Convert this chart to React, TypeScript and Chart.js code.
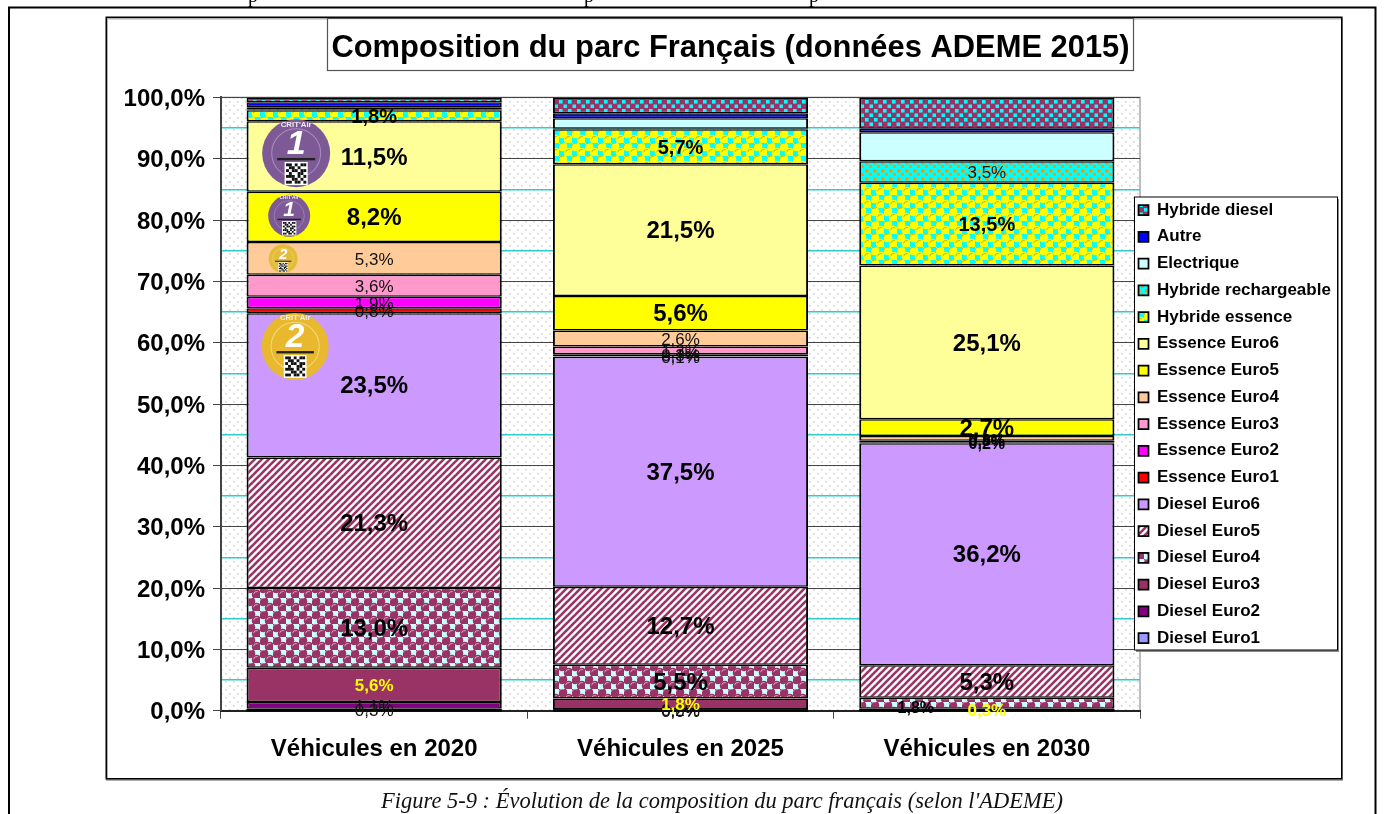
import React, { useEffect, useRef } from "react";
import { Chart, registerables } from "chart.js";

Chart.register(...registerables);

const categories = ["Véhicules en 2020", "Véhicules en 2025", "Véhicules en 2030"];

const dieselEuro1 = [0.3, 0.0, 0.0];
const dieselEuro2 = [1.1, 0.2, 0.0];
const dieselEuro3 = [5.6, 1.8, 0.3];
const dieselEuro4 = [13.0, 5.5, 1.8];
const dieselEuro5 = [21.3, 12.7, 5.3];
const dieselEuro6 = [23.5, 37.5, 36.2];
const essenceEuro1 = [0.8, 0.1, 0.1];
const essenceEuro2 = [1.9, 0.3, 0.1];
const essenceEuro3 = [3.6, 1.3, 0.2];
const essenceEuro4 = [5.3, 2.6, 0.8];
const essenceEuro5 = [8.2, 5.6, 2.7];
const essenceEuro6 = [11.5, 21.5, 25.1];
const hybrideEssence = [1.8, 5.7, 13.5];
const hybrideRechargeable = [0.1, 0.1, 3.5];
const electrique = [0.4, 1.7, 4.7];
const autre = [0.8, 0.8, 0.6];
const hybrideDiesel = [0.8, 2.6, 5.1];

const seriesNames = [
  "Diesel Euro1", "Diesel Euro2", "Diesel Euro3", "Diesel Euro4", "Diesel Euro5", "Diesel Euro6",
  "Essence Euro1", "Essence Euro2", "Essence Euro3", "Essence Euro4", "Essence Euro5", "Essence Euro6",
  "Hybride essence", "Hybride rechargeable", "Electrique", "Autre", "Hybride diesel",
];
const seriesValues = [
  dieselEuro1, dieselEuro2, dieselEuro3, dieselEuro4, dieselEuro5, dieselEuro6,
  essenceEuro1, essenceEuro2, essenceEuro3, essenceEuro4, essenceEuro5, essenceEuro6,
  hybrideEssence, hybrideRechargeable, electrique, autre, hybrideDiesel,
];

// style of the value label of each series, per category ("" = no label)
const labelStyles = [
  ["small", "small", ""],
  ["small", "small", ""],
  ["yellow", "yellow", "yellow"],
  ["big", "big", "low"],
  ["big", "big", "big"],
  ["big", "big", "big"],
  ["small", "small", ""],
  ["small", "small", ""],
  ["small", "small", "thin"],
  ["small", "small", "thin"],
  ["big", "big", "big"],
  ["big", "big", "big"],
  ["mid", "mid", "mid"],
  ["", "", "small"],
  ["", "", ""],
  ["", "", ""],
  ["", "", ""],
];

const FONT = '"Liberation Sans", Arial, sans-serif';
const LABEL_FONTS: Record<string, { font: string; color: string; dx: number; dy: number }> = {
  big: { font: `bold 24px ${FONT}`, color: "#000", dx: 0, dy: 1.5 },
  mid: { font: `bold 20px ${FONT}`, color: "#000", dx: 0, dy: 1.5 },
  small: { font: `17px ${FONT}`, color: "#111", dx: 0, dy: 1.5 },
  yellow: { font: `bold 17px ${FONT}`, color: "#FFFF00", dx: 0, dy: 1.5 },
  low: { font: `bold 16px ${FONT}`, color: "#000", dx: -71, dy: 5 },
  thin: { font: `bold 16px ${FONT}`, color: "#000", dx: 0, dy: 3 },
};

const stickers = [
  { cat: 0, dx: -78, value: 90.9, r: 34, color: "#7D5A96", ring: "#A78FBC", num: "1" },
  { cat: 0, dx: -85, value: 80.7, r: 21, color: "#7D5A96", ring: "#A78FBC", num: "1" },
  { cat: 0, dx: -91, value: 73.7, r: 14.5, color: "#E3BC3A", ring: "#F0D679", num: "2" },
  { cat: 0, dx: -79, value: 59.4, r: 33.5, color: "#E8B92F", ring: "#F5D873", num: "2" },
];

const QR = ["1101011", "0110100", "1011011", "0100110", "1110101", "0011010", "1101101"];

let plotPattern: any = "#FFFFFF";

function tile(w: number, h: number, paint: (c: CanvasRenderingContext2D) => void) {
  const cv = document.createElement("canvas");
  cv.width = w;
  cv.height = h;
  const c = cv.getContext("2d")!;
  paint(c);
  return document.createElement("canvas").getContext("2d")!.createPattern(cv, "repeat")!;
}

function bubbles(bg: string, fg: string, hi: string) {
  return tile(13, 13, (c) => {
    c.fillStyle = bg;
    c.fillRect(0, 0, 13, 13);
    for (const [x, y] of [[3.25, 3.25], [9.75, 9.75]]) {
      c.fillStyle = fg;
      c.beginPath();
      c.arc(x, y, 5, 0, Math.PI * 2);
      c.fill();
      c.strokeStyle = hi;
      c.lineWidth = 1;
      c.beginPath();
      c.arc(x, y, 3.2, Math.PI * 1.05, Math.PI * 1.65);
      c.stroke();
    }
  });
}

function makePatterns() {
  const stripes = tile(7, 7, (c) => {
    c.fillStyle = "#FFFFFF";
    c.fillRect(0, 0, 7, 7);
    c.strokeStyle = "#993366";
    c.lineWidth = 2.6;
    for (const o of [-7, 0, 7]) {
      c.beginPath();
      c.moveTo(o - 1, 8);
      c.lineTo(o + 8, -1);
      c.stroke();
    }
  });
  const dots = (bg: string, fg: string, size: number, period: number) =>
    tile(period, period, (c) => {
      c.fillStyle = bg;
      c.fillRect(0, 0, period, period);
      c.fillStyle = fg;
      c.fillRect(1, 1, size, size);
      c.fillRect(1 + period / 2, 1 + period / 2, size, size);
    });
  return {
    plot: dots("#FFFFFF", "#D2D2D2", 1.6, 8),
    d4: bubbles("#CCFFFF", "#993366", "#D9A0BC"),
    d5: stripes,
    he: bubbles("#00FFFF", "#FFFF00", "#C8B400"),
    hr: dots("#00FFFF", "#FF9900", 3.6, 8),
    hd: dots("#993366", "#00FFFF", 3.6, 9),
  };
}

function drawSticker(ctx: CanvasRenderingContext2D, cx: number, cy: number, s: (typeof stickers)[number]) {
  const r = s.r;
  ctx.save();
  ctx.fillStyle = s.color;
  ctx.beginPath();
  ctx.arc(cx, cy, r, 0, Math.PI * 2);
  ctx.fill();
  ctx.strokeStyle = s.ring;
  ctx.lineWidth = Math.max(0.6, r * 0.03);
  ctx.beginPath();
  ctx.arc(cx, cy, r * 0.72, 0, Math.PI * 2);
  ctx.stroke();
  ctx.fillStyle = "#F2ECF4";
  ctx.textAlign = "center";
  ctx.textBaseline = "middle";
  if (r > 18) {
    ctx.font = `bold ${r * 0.23}px ${FONT}`;
    ctx.fillText("CRIT'Air", cx, cy - r * 0.84);
  }
  ctx.fillStyle = "#FFFFFF";
  ctx.font = `italic bold ${r * 1.0}px ${FONT}`;
  ctx.fillText(s.num, cx, cy - r * 0.26);
  ctx.fillStyle = "#222";
  ctx.fillRect(cx - r * 0.56, cy + r * 0.14, r * 1.12, Math.max(1, r * 0.07));
  const cell = r * 0.085;
  const qx = cx - 3.5 * cell;
  const qy = cy + r * 0.3;
  ctx.fillStyle = "#FFFFFF";
  ctx.fillRect(qx - cell * 0.5, qy - cell * 0.5, cell * 8, cell * 8);
  ctx.fillStyle = "#111";
  QR.forEach((row, j) =>
    row.split("").forEach((b, i) => {
      if (b === "1") ctx.fillRect(qx + i * cell, qy + j * cell, cell, cell);
    })
  );
  ctx.restore();
}

const pageDecor = {
  id: "pageDecor",
  afterLayout(chart: any) {
    const t = chart.titleBlock;
    t.left = 327;
    t.right = 1134;
    t.top = 29.5;
    t.bottom = 67.5;
    const l = chart.legend;
    const pad = l.options.labels.padding;
    l.left = 1138.5 - pad;
    l.right = 1340;
    l.top = 201.5 - pad;
    l.bottom = l.top + 700;
    if (!l.__boxed) {
      l.__boxed = true;
      const orig = l.draw.bind(l);
      l.draw = (...a: any[]) => {
        const c = chart.ctx;
        c.save();
        c.fillStyle = "#8A8A8A";
        c.fillRect(1136, 199, 203, 453);
        c.fillStyle = "#FFFFFF";
        c.fillRect(1134.5, 197, 203, 453);
        c.strokeStyle = "#000";
        c.lineWidth = 1;
        c.strokeRect(1134.5, 197, 203, 453);
        c.restore();
        orig(...a);
      };
    }
  },
  beforeDraw(chart: any) {
    const c = chart.ctx;
    const a = chart.chartArea;
    // y tick labels sit slightly under the tick in the source
    const items: any = chart.scales.y.getLabelItems();
    if (!items.__moved) {
      items.__moved = true;
      items.forEach((it: any) => { it.textOffset += 2; });
    }
    c.save();
    c.fillStyle = "#FFFFFF";
    c.fillRect(0, 0, 1384, 814);
    // text line cut off by the top of the page
    c.fillStyle = "#000";
    c.font = '20px "Liberation Serif", serif';
    c.textBaseline = "alphabetic";
    c.textAlign = "left";
    for (const x of [248, 584, 809]) c.fillText("p", x, 2);
    // page frame
    c.strokeStyle = "#000";
    c.lineWidth = 2;
    c.beginPath();
    c.moveTo(9, 816);
    c.lineTo(9, 7.5);
    c.lineTo(1375.5, 7.5);
    c.lineTo(1375.5, 816);
    c.stroke();
    // chart frame
    c.strokeStyle = "#AFAFAF";
    c.strokeRect(107, 18.5, 1235, 761.5);
    c.strokeStyle = "#000";
    c.lineWidth = 1.5;
    c.strokeRect(106.25, 17.25, 1235.5, 761.5);
    // title frame
    c.fillStyle = "#FFFFFF";
    c.fillRect(327.5, 18.5, 806, 52);
    c.strokeStyle = "#555";
    c.lineWidth = 1.2;
    c.strokeRect(327.5, 18.5, 806, 52);
    // plot background
    c.fillStyle = plotPattern;
    c.fillRect(a.left, a.top, a.width, a.height);
    c.strokeStyle = "#A8A8A8";
    c.lineWidth = 1.5;
    c.strokeRect(a.left, a.top, a.width, a.height);
    // caption
    c.fillStyle = "#111";
    c.font = 'italic 22.5px "Liberation Serif", serif';
    c.textAlign = "center";
    c.textBaseline = "middle";
    c.fillText("Figure 5-9 : Évolution de la composition du parc français (selon l'ADEME)", 722, 802, 682);
    c.restore();
  },
  afterDatasetsDraw(chart: any) {
    const c = chart.ctx;
    const xs = chart.scales.x;
    const ys = chart.scales.y;
    // thick base line under the empty series
    c.save();
    c.fillStyle = "#000";
    chart.getDatasetMeta(0).data.forEach((bar: any) => {
      c.fillRect(bar.x - bar.width / 2, ys.bottom - 1.5, bar.width, 2.5);
    });
    c.restore();
    stickers.forEach((s) => drawSticker(c, xs.getPixelForValue(s.cat) + s.dx, ys.getPixelForValue(s.value), s));
    c.save();
    c.textAlign = "center";
    c.textBaseline = "middle";
    chart.data.datasets.forEach((ds: any, i: number) => {
      const meta = chart.getDatasetMeta(i);
      meta.data.forEach((bar: any, j: number) => {
        const st = LABEL_FONTS[labelStyles[i][j]];
        if (!st) return;
        const p = bar.getCenterPoint();
        c.font = st.font;
        c.fillStyle = st.color;
        c.fillText(`${ds.data[j].toFixed(1).replace(".", ",")}%`, p.x + st.dx, p.y + st.dy);
      });
    });
    c.restore();
  },
};

export default function App() {
  const ref = useRef<HTMLCanvasElement>(null);
  useEffect(() => {
    const p = makePatterns();
    plotPattern = p.plot;
    const fills: any[] = [
      "#9999FF", "#800080", "#993366", p.d4, p.d5, "#CC99FF",
      "#FF0000", "#FF00FF", "#FF99CC", "#FFCC99", "#FFFF00", "#FFFF99",
      p.he, p.hr, "#CCFFFF", "#0000FF", p.hd,
    ];
    const axisFont = { family: '"Liberation Sans", Arial, sans-serif', weight: "bold" as const, size: 24 };
    const chart: any = new Chart(ref.current!, {
      type: "bar",
      data: {
        labels: categories,
        datasets: seriesNames.map((label, i) => ({
          label,
          data: seriesValues[i],
          backgroundColor: fills[i],
          borderColor: "#000",
          borderWidth: { top: 1.5, bottom: 1.5, left: 2, right: 2 },
          borderSkipped: false,
          inflateAmount: 0,
          barPercentage: 0.833,
          categoryPercentage: 1,
        })),
      },
      options: {
        responsive: false,
        animation: false,
        layout: { autoPadding: false, padding: { left: 121, right: 244, top: 60.3, bottom: 43.3 } },
        plugins: {
          tooltip: { enabled: false },
          title: {
            display: true,
            text: "Composition du parc Français (données ADEME 2015)",
            color: "#000",
            padding: 0,
            font: { family: '"Liberation Sans", Arial, sans-serif', weight: "bold", size: 30.9, lineHeight: 1.2 },
          },
          legend: {
            position: "chartArea",
            align: "start",
            reverse: true,
            labels: {
              boxWidth: 10,
              boxHeight: 10,
              padding: 9.75,
              color: "#000",
              font: { family: '"Liberation Sans", Arial, sans-serif', weight: "bold", size: 17 },
            },
          },
        },
        scales: {
          x: {
            stacked: true,
            afterFit: (s: any) => { s.height = 60; },
            grid: { drawOnChartArea: false, tickLength: 8, tickColor: "#444", offset: true },
            border: { color: "#222", width: 2 },
            ticks: { color: "#000", font: axisFont, padding: 16, maxRotation: 0 },
          },
          y: {
            stacked: true,
            min: 0,
            max: 100,
            afterFit: (s: any) => { s.width = 100; },
            grid: {
              color: (c: any) => (c.tick.value % 10 === 0 ? "#444" : "#33CCCC"),
              lineWidth: (c: any) => (c.tick.value % 10 === 0 ? 1 : 1.5),
              tickColor: (c: any) => (c.tick.value % 10 === 0 ? "#444" : "rgba(0,0,0,0)"),
              tickLength: 8,
            },
            border: { color: "#444", width: 2 },
            ticks: {
              stepSize: 5,
              autoSkip: false,
              maxTicksLimit: 30,
              color: "#000",
              font: axisFont,
              padding: 8,
              callback: (v: any) => (Number(v) % 10 === 0 ? `${Number(v).toFixed(1).replace(".", ",")}%` : ""),
            },
          },
        },
      } as any,
      plugins: [pageDecor as any],
    } as any);
    return () => chart.destroy();
  }, []);
  return <canvas ref={ref} width={1384} height={814} style={{ position: "fixed", left: 0, top: 0, display: "block" }} />;
}
